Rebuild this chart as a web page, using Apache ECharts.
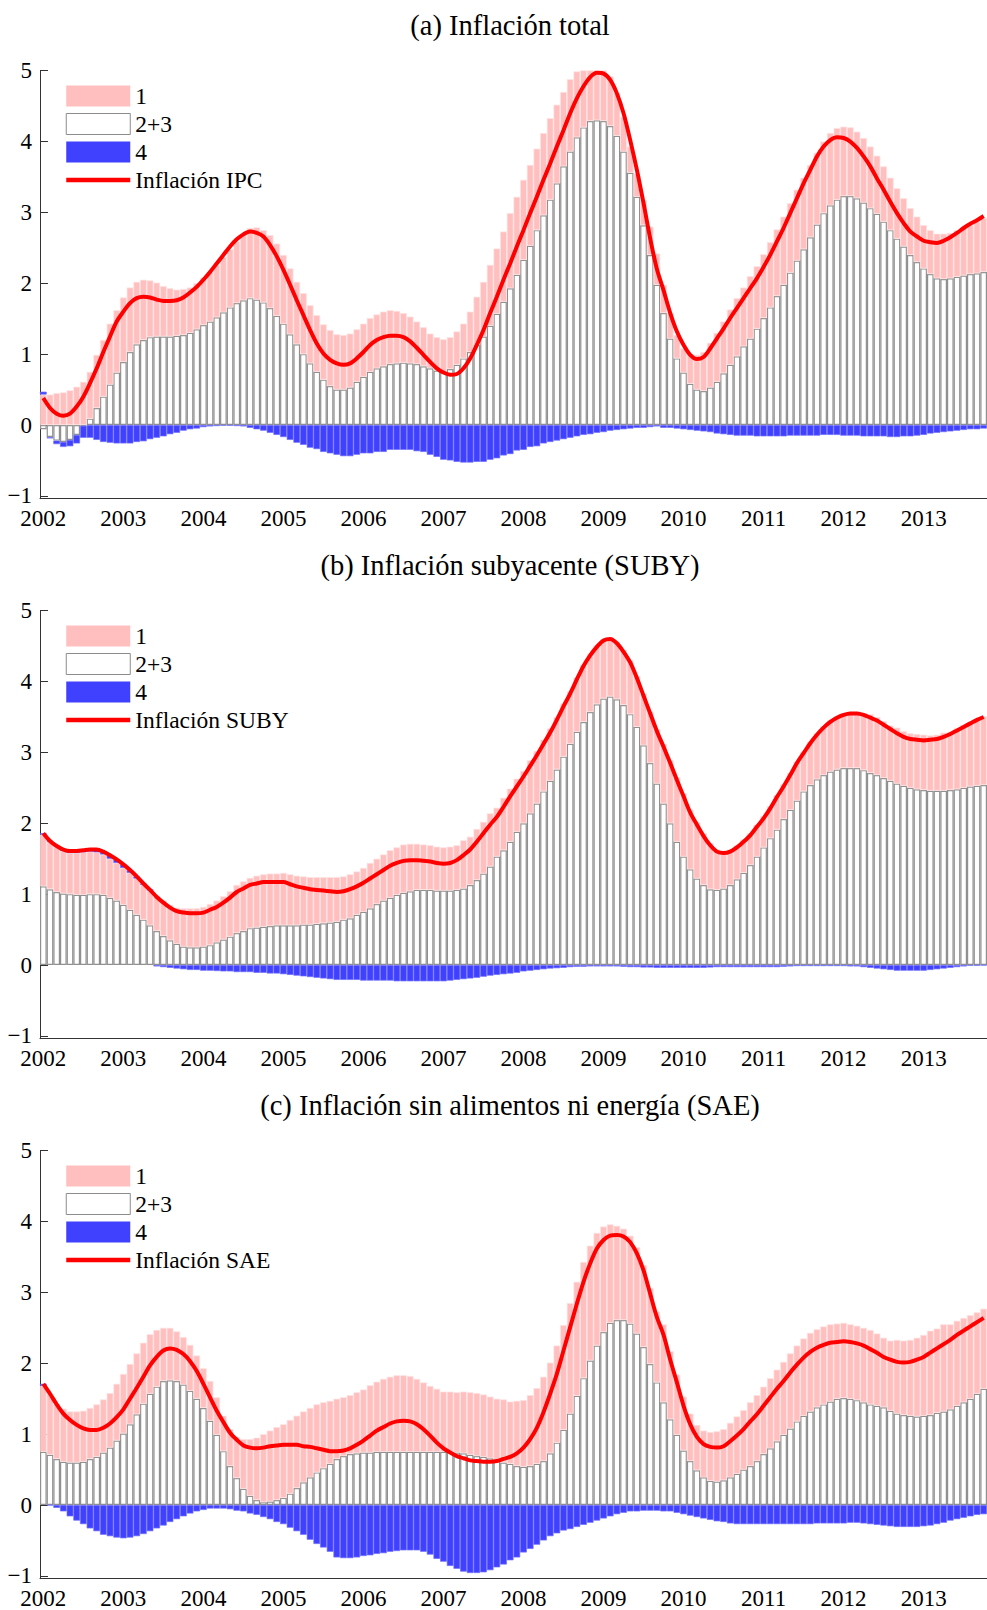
<!DOCTYPE html>
<html><head><meta charset="utf-8">
<script src="https://cdn.jsdelivr.net/npm/echarts@6/dist/echarts.min.js"></script>
<style>html,body{margin:0;padding:0;background:#fff}#c{width:987px;height:1610px}</style>
</head><body><div id="c"></div>
<script>
// Monthly observations, Jan 2002 onward (index 0 = 2002-01)
const years = [2002,2003,2004,2005,2006,2007,2008,2009,2010,2011,2012,2013];
const yTicks = [-1,0,1,2,3,4,5];
const titles = ['(a) Inflación total','(b) Inflación subyacente (SUBY)','(c) Inflación sin alimentos ni energía (SAE)'];
const lineNames = ['Inflación IPC','Inflación SUBY','Inflación SAE'];

// ---- (a) IPC ----
const ipcLine = [0.38,0.24,0.16,0.13,0.16,0.26,0.40,0.59,0.80,1.03,
1.25,1.46,1.60,1.72,1.79,1.81,1.80,1.77,1.75,1.75,
1.76,1.80,1.87,1.95,2.05,2.16,2.28,2.40,2.52,2.62,
2.69,2.73,2.71,2.66,2.54,2.38,2.19,1.98,1.76,1.55,
1.34,1.15,1.01,0.92,0.87,0.85,0.87,0.94,1.03,1.13,
1.20,1.24,1.26,1.26,1.24,1.18,1.09,0.99,0.89,0.80,
0.74,0.71,0.72,0.80,0.94,1.13,1.34,1.58,1.81,2.05,
2.28,2.52,2.75,2.99,3.22,3.46,3.69,3.93,4.16,4.40,
4.61,4.78,4.91,4.97,4.96,4.87,4.68,4.40,4.02,3.60,
3.13,2.63,2.20,1.90,1.58,1.32,1.13,0.99,0.93,0.96,
1.08,1.22,1.36,1.51,1.65,1.79,1.93,2.07,2.23,2.40,
2.59,2.78,2.99,3.20,3.41,3.60,3.79,3.93,4.02,4.06,
4.05,4.00,3.91,3.79,3.65,3.48,3.32,3.15,2.99,2.85,
2.73,2.66,2.60,2.58,2.57,2.60,2.65,2.71,2.78,2.84,
2.89,2.95];
const ipcC23 = [-0.06,-0.17,-0.22,-0.24,-0.21,-0.14,-0.01,0.09,0.24,0.40,
0.57,0.74,0.89,1.03,1.14,1.20,1.24,1.25,1.25,1.25,
1.26,1.27,1.30,1.35,1.41,1.46,1.52,1.59,1.66,1.72,
1.76,1.79,1.77,1.73,1.65,1.54,1.43,1.28,1.14,1.00,
0.87,0.75,0.64,0.55,0.50,0.50,0.53,0.61,0.68,0.75,
0.80,0.83,0.86,0.87,0.88,0.87,0.86,0.83,0.80,0.77,
0.75,0.79,0.85,0.94,1.03,1.13,1.25,1.40,1.57,1.74,
1.93,2.12,2.33,2.53,2.75,2.96,3.18,3.41,3.65,3.86,
4.06,4.20,4.29,4.30,4.29,4.22,4.08,3.86,3.56,3.22,
2.82,2.40,1.98,1.58,1.22,0.94,0.74,0.58,0.50,0.48,
0.53,0.61,0.73,0.85,0.97,1.11,1.22,1.36,1.51,1.66,
1.82,1.98,2.15,2.32,2.48,2.65,2.83,2.99,3.10,3.18,
3.23,3.23,3.20,3.14,3.06,2.98,2.87,2.75,2.63,2.52,
2.40,2.30,2.21,2.13,2.07,2.06,2.07,2.09,2.11,2.13,
2.14,2.16];
const ipcC1 = [0.43,0.43,0.45,0.46,0.49,0.54,0.61,0.66,0.75,0.80,
0.86,0.88,0.91,0.91,0.88,0.85,0.80,0.76,0.71,0.68,
0.65,0.65,0.64,0.65,0.67,0.70,0.74,0.78,0.82,0.87,
0.94,0.99,1.02,1.02,1.03,1.02,0.97,0.93,0.88,0.86,
0.82,0.80,0.78,0.79,0.78,0.77,0.76,0.74,0.75,0.76,
0.76,0.77,0.76,0.74,0.70,0.66,0.60,0.55,0.49,0.47,
0.46,0.45,0.47,0.49,0.57,0.68,0.77,0.86,0.92,0.99,
1.06,1.10,1.13,1.14,1.15,1.16,1.15,1.11,1.05,1.02,
0.93,0.83,0.77,0.76,0.76,0.70,0.60,0.49,0.37,0.33,
0.35,0.40,0.44,0.40,0.36,0.33,0.34,0.42,0.49,0.55,
0.63,0.69,0.73,0.78,0.82,0.83,0.88,0.88,0.90,0.92,
0.94,0.96,0.98,1.00,1.01,1.02,1.01,1.01,1.02,1.01,
0.98,0.97,0.94,0.91,0.87,0.82,0.78,0.74,0.71,0.68,
0.66,0.64,0.61,0.62,0.63,0.64,0.64,0.66,0.67,0.69,
0.73,0.76];
const ipcC4 = [0.04,-0.02,-0.05,-0.07,-0.09,-0.12,-0.17,-0.18,-0.21,-0.24,
-0.25,-0.26,-0.26,-0.26,-0.24,-0.23,-0.20,-0.18,-0.16,-0.13,
-0.11,-0.08,-0.06,-0.05,-0.03,-0.02,-0.015,-0.01,-0.01,-0.015,
-0.02,-0.04,-0.06,-0.08,-0.11,-0.14,-0.17,-0.21,-0.25,-0.28,
-0.32,-0.34,-0.38,-0.40,-0.42,-0.44,-0.44,-0.42,-0.40,-0.40,
-0.38,-0.38,-0.35,-0.35,-0.35,-0.35,-0.37,-0.38,-0.42,-0.45,
-0.49,-0.50,-0.52,-0.53,-0.53,-0.52,-0.52,-0.49,-0.47,-0.43,
-0.41,-0.36,-0.35,-0.31,-0.30,-0.26,-0.24,-0.22,-0.20,-0.18,
-0.16,-0.14,-0.13,-0.11,-0.10,-0.08,-0.07,-0.06,-0.05,-0.04,
-0.04,-0.03,-0.02,-0.04,-0.04,-0.05,-0.06,-0.07,-0.08,-0.09,
-0.10,-0.12,-0.13,-0.14,-0.15,-0.15,-0.15,-0.16,-0.16,-0.16,
-0.16,-0.16,-0.15,-0.15,-0.15,-0.15,-0.15,-0.14,-0.14,-0.14,
-0.15,-0.15,-0.15,-0.16,-0.16,-0.16,-0.16,-0.17,-0.17,-0.16,
-0.16,-0.15,-0.14,-0.12,-0.11,-0.10,-0.09,-0.08,-0.07,-0.06,
-0.06,-0.05];

// ---- (b) SUBY ----
const subyLine = [1.86,1.75,1.68,1.63,1.61,1.61,1.62,1.63,1.63,1.60,
1.55,1.49,1.42,1.34,1.25,1.15,1.06,0.96,0.88,0.81,
0.76,0.74,0.73,0.73,0.74,0.78,0.82,0.88,0.95,1.03,
1.08,1.13,1.15,1.17,1.17,1.17,1.17,1.14,1.11,1.09,
1.07,1.06,1.05,1.04,1.03,1.04,1.07,1.11,1.16,1.22,
1.28,1.34,1.40,1.44,1.47,1.48,1.48,1.47,1.46,1.44,
1.43,1.44,1.48,1.55,1.63,1.74,1.86,1.98,2.09,2.23,
2.38,2.52,2.66,2.81,2.96,3.12,3.28,3.46,3.65,3.83,
4.03,4.22,4.37,4.49,4.58,4.60,4.54,4.42,4.27,4.05,
3.80,3.55,3.30,3.08,2.85,2.61,2.38,2.15,1.98,1.82,
1.69,1.60,1.58,1.60,1.66,1.74,1.83,1.95,2.07,2.21,
2.37,2.52,2.68,2.85,2.99,3.13,3.25,3.35,3.43,3.49,
3.53,3.55,3.55,3.53,3.49,3.45,3.39,3.33,3.27,3.22,
3.19,3.18,3.17,3.18,3.19,3.22,3.26,3.31,3.36,3.41,
3.46,3.50];
const subyC23 = [1.11,1.07,1.03,1.01,1.00,0.99,0.99,1.00,1.00,0.99,
0.95,0.91,0.85,0.78,0.71,0.64,0.56,0.48,0.41,0.35,
0.30,0.26,0.25,0.25,0.26,0.28,0.32,0.36,0.40,0.45,
0.48,0.52,0.53,0.54,0.55,0.56,0.56,0.56,0.56,0.57,
0.57,0.58,0.59,0.60,0.61,0.64,0.66,0.71,0.75,0.80,
0.86,0.91,0.95,0.99,1.02,1.04,1.06,1.06,1.06,1.05,
1.05,1.05,1.06,1.08,1.13,1.20,1.29,1.39,1.53,1.62,
1.74,1.88,2.00,2.14,2.28,2.45,2.60,2.76,2.94,3.12,
3.29,3.43,3.57,3.68,3.76,3.79,3.75,3.67,3.54,3.36,
3.10,2.85,2.56,2.28,2.00,1.74,1.53,1.35,1.22,1.13,
1.07,1.06,1.08,1.13,1.21,1.30,1.41,1.53,1.66,1.79,
1.91,2.06,2.19,2.32,2.45,2.54,2.62,2.68,2.73,2.76,
2.78,2.78,2.78,2.75,2.71,2.68,2.64,2.60,2.56,2.53,
2.50,2.48,2.47,2.46,2.46,2.46,2.47,2.48,2.50,2.52,
2.53,2.54];
const subyC1 = [0.73,0.67,0.64,0.60,0.58,0.59,0.60,0.60,0.59,0.57,
0.55,0.53,0.52,0.52,0.51,0.49,0.50,0.50,0.50,0.50,
0.51,0.54,0.55,0.55,0.56,0.58,0.59,0.61,0.64,0.68,
0.70,0.71,0.73,0.74,0.74,0.73,0.74,0.72,0.70,0.68,
0.67,0.66,0.65,0.64,0.63,0.61,0.62,0.61,0.62,0.64,
0.64,0.65,0.67,0.67,0.68,0.67,0.65,0.64,0.63,0.62,
0.61,0.62,0.63,0.68,0.68,0.72,0.73,0.75,0.69,0.74,
0.75,0.75,0.74,0.75,0.74,0.73,0.74,0.74,0.75,0.74,
0.77,0.81,0.82,0.83,0.84,0.83,0.81,0.78,0.76,0.72,
0.73,0.73,0.77,0.84,0.89,0.91,0.89,0.84,0.80,0.73,
0.65,0.57,0.53,0.50,0.48,0.47,0.45,0.45,0.44,0.45,
0.49,0.49,0.52,0.55,0.56,0.61,0.65,0.69,0.72,0.75,
0.77,0.79,0.79,0.80,0.83,0.82,0.80,0.78,0.79,0.77,
0.77,0.78,0.78,0.78,0.79,0.82,0.82,0.86,0.89,0.90,
0.94,0.97];
const subyC4 = [0.02,0.01,0.01,0.02,0.03,0.03,0.03,0.03,0.04,0.04,
0.05,0.05,0.05,0.04,0.03,0.02,0.00,-0.02,-0.03,-0.04,
-0.05,-0.06,-0.07,-0.07,-0.08,-0.08,-0.085,-0.09,-0.09,-0.10,
-0.10,-0.10,-0.11,-0.11,-0.12,-0.12,-0.13,-0.14,-0.15,-0.16,
-0.17,-0.18,-0.19,-0.20,-0.21,-0.21,-0.21,-0.21,-0.22,-0.22,
-0.22,-0.22,-0.22,-0.23,-0.23,-0.23,-0.23,-0.23,-0.23,-0.23,
-0.23,-0.22,-0.21,-0.20,-0.19,-0.18,-0.165,-0.15,-0.14,-0.13,
-0.12,-0.11,-0.09,-0.08,-0.07,-0.06,-0.05,-0.045,-0.04,-0.03,
-0.025,-0.025,-0.02,-0.02,-0.02,-0.02,-0.02,-0.025,-0.03,-0.03,
-0.035,-0.035,-0.04,-0.04,-0.04,-0.04,-0.04,-0.04,-0.04,-0.04,
-0.035,-0.03,-0.03,-0.03,-0.03,-0.03,-0.03,-0.03,-0.03,-0.03,
-0.03,-0.025,-0.02,-0.015,-0.015,-0.015,-0.015,-0.015,-0.015,-0.015,
-0.015,-0.02,-0.02,-0.03,-0.04,-0.05,-0.06,-0.07,-0.08,-0.08,
-0.08,-0.08,-0.08,-0.07,-0.06,-0.05,-0.04,-0.03,-0.02,-0.01,
-0.01,-0.005];

// ---- (c) SAE ----
const saeLine = [1.71,1.57,1.42,1.29,1.20,1.13,1.08,1.06,1.06,1.09,
1.15,1.24,1.35,1.50,1.65,1.81,1.97,2.09,2.18,2.21,
2.19,2.13,2.03,1.89,1.71,1.52,1.33,1.17,1.02,0.92,
0.84,0.81,0.80,0.81,0.83,0.84,0.85,0.85,0.85,0.83,
0.82,0.80,0.78,0.76,0.76,0.77,0.80,0.85,0.91,0.98,
1.05,1.10,1.15,1.18,1.19,1.18,1.14,1.07,0.98,0.88,
0.80,0.74,0.69,0.66,0.63,0.62,0.61,0.61,0.62,0.65,
0.68,0.73,0.81,0.93,1.09,1.31,1.57,1.85,2.18,2.51,
2.84,3.15,3.41,3.62,3.74,3.80,3.81,3.79,3.71,3.55,
3.31,2.98,2.65,2.40,2.05,1.73,1.40,1.14,0.96,0.86,
0.82,0.81,0.83,0.90,0.98,1.07,1.18,1.28,1.40,1.52,
1.64,1.75,1.87,1.98,2.08,2.16,2.22,2.26,2.29,2.30,
2.31,2.30,2.28,2.25,2.20,2.15,2.09,2.05,2.02,2.01,
2.02,2.05,2.09,2.15,2.21,2.27,2.33,2.40,2.46,2.52,
2.58,2.64];
const saeC23 = [0.75,0.71,0.65,0.61,0.60,0.60,0.61,0.65,0.68,0.74,
0.81,0.91,1.01,1.14,1.28,1.43,1.57,1.67,1.75,1.76,
1.75,1.70,1.61,1.50,1.37,1.19,0.99,0.76,0.55,0.38,
0.23,0.13,0.07,0.04,0.05,0.07,0.10,0.16,0.24,0.32,
0.39,0.46,0.52,0.58,0.65,0.69,0.72,0.73,0.74,0.74,
0.75,0.75,0.75,0.75,0.75,0.75,0.75,0.75,0.75,0.75,
0.75,0.75,0.74,0.73,0.71,0.69,0.68,0.66,0.63,0.60,
0.58,0.55,0.54,0.55,0.58,0.62,0.73,0.88,1.06,1.29,
1.54,1.79,2.04,2.25,2.44,2.57,2.61,2.61,2.56,2.42,
2.23,1.99,1.73,1.45,1.21,0.99,0.77,0.62,0.49,0.39,
0.34,0.33,0.35,0.39,0.44,0.50,0.55,0.62,0.72,0.80,
0.90,0.99,1.08,1.18,1.26,1.32,1.38,1.42,1.46,1.50,
1.51,1.50,1.48,1.45,1.42,1.40,1.38,1.33,1.29,1.27,
1.26,1.25,1.26,1.27,1.30,1.32,1.35,1.40,1.45,1.50,
1.57,1.64];
const saeC1 = [0.93,0.86,0.77,0.75,0.72,0.72,0.72,0.72,0.74,0.75,
0.77,0.80,0.84,0.85,0.86,0.86,0.84,0.80,0.75,0.74,
0.70,0.67,0.65,0.61,0.56,0.56,0.53,0.50,0.52,0.58,
0.70,0.80,0.88,0.96,1.00,1.03,1.04,1.04,1.02,1.00,
0.98,0.96,0.93,0.89,0.85,0.83,0.83,0.86,0.89,0.95,
0.99,1.03,1.06,1.08,1.08,1.07,1.03,0.98,0.93,0.89,
0.85,0.85,0.85,0.87,0.88,0.89,0.88,0.87,0.87,0.89,
0.88,0.92,0.94,1.00,1.07,1.19,1.28,1.37,1.48,1.56,
1.61,1.64,1.62,1.59,1.49,1.39,1.33,1.29,1.24,1.22,
1.16,1.07,1.00,1.10,0.96,0.85,0.76,0.67,0.64,0.66,
0.69,0.71,0.72,0.77,0.81,0.84,0.90,0.93,0.95,0.99,
1.01,1.03,1.06,1.07,1.09,1.11,1.10,1.10,1.09,1.06,
1.06,1.05,1.05,1.05,1.05,1.02,0.98,0.99,1.04,1.05,
1.07,1.11,1.14,1.19,1.19,1.23,1.20,1.20,1.19,1.18,
1.15,1.13];
const saeC4 = [0.03,-0.005,-0.04,-0.09,-0.16,-0.22,-0.27,-0.33,-0.37,-0.42,
-0.44,-0.46,-0.47,-0.46,-0.44,-0.41,-0.37,-0.33,-0.29,-0.24,
-0.20,-0.16,-0.12,-0.09,-0.07,-0.05,-0.05,-0.05,-0.06,-0.08,
-0.09,-0.12,-0.14,-0.17,-0.20,-0.24,-0.27,-0.32,-0.37,-0.42,
-0.49,-0.55,-0.60,-0.66,-0.74,-0.75,-0.75,-0.74,-0.72,-0.71,
-0.69,-0.68,-0.66,-0.65,-0.64,-0.64,-0.64,-0.66,-0.70,-0.76,
-0.80,-0.86,-0.90,-0.94,-0.96,-0.96,-0.95,-0.92,-0.88,-0.84,
-0.78,-0.74,-0.67,-0.62,-0.56,-0.50,-0.44,-0.40,-0.36,-0.34,
-0.31,-0.28,-0.25,-0.22,-0.19,-0.16,-0.13,-0.11,-0.09,-0.09,
-0.08,-0.08,-0.08,-0.09,-0.09,-0.11,-0.13,-0.15,-0.17,-0.19,
-0.21,-0.23,-0.24,-0.26,-0.27,-0.27,-0.27,-0.27,-0.27,-0.27,
-0.27,-0.27,-0.27,-0.27,-0.27,-0.27,-0.26,-0.26,-0.26,-0.26,
-0.26,-0.25,-0.25,-0.26,-0.27,-0.28,-0.29,-0.30,-0.31,-0.31,
-0.31,-0.31,-0.30,-0.29,-0.27,-0.25,-0.22,-0.20,-0.18,-0.16,
-0.14,-0.13];

// month categories 2002-01 ... (one per observation)
const months = ipcLine.map((_, i) => (2002 + Math.floor(i / 12)) + '-' + String(i % 12 + 1).padStart(2, '0'));

const panels = [
  {c1: ipcC1, c23: ipcC23, c4: ipcC4, line: ipcLine},
  {c1: subyC1, c23: subyC23, c4: subyC4, line: subyLine},
  {c1: saeC1, c23: saeC23, c4: saeC4, line: saeLine}
];

const FONT = '"Liberation Serif", "Times New Roman", serif';
const isJan = i => i % 12 === 0;

const option = {
  animation: false,
  backgroundColor: '#fff',
  title: [], grid: [], xAxis: [], yAxis: [], legend: [], series: []
};

panels.forEach((p, k) => {
  const off = 540 * k;
  option.title.push({
    text: titles[k], left: 510, top: 11 + off, textAlign: 'center', padding: 0,
    textStyle: {fontFamily: FONT, fontSize: 28.5, fontWeight: 'normal', color: '#000'}
  });
  option.grid.push({left: 40, right: 0, top: 70.7 + off, height: 428});
  option.xAxis.push({
    type: 'category', gridIndex: k, data: months, boundaryGap: true,
    axisLine: {onZero: false, lineStyle: {color: '#333', width: 1}},
    axisTick: {inside: true, length: 8, alignWithLabel: true, interval: isJan, lineStyle: {color: '#333'}},
    axisLabel: {interval: isJan, formatter: v => v.slice(0, 4),
      fontFamily: FONT, fontSize: 23, color: '#000', margin: 8},
    splitLine: {show: false}
  });
  option.yAxis.push({
    type: 'value', gridIndex: k, min: -1.04, max: 5,
    axisLine: {show: true, onZero: false, lineStyle: {color: '#333', width: 1}},
    axisTick: {show: true, inside: true, length: 8, customValues: yTicks, lineStyle: {color: '#333'}},
    axisLabel: {customValues: yTicks, formatter: v => v < 0 ? '\u2212' + Math.abs(v) : String(v),
      fontFamily: FONT, fontSize: 23, color: '#000', margin: 8},
    splitLine: {show: false}
  });
  option.legend.push({
    left: 64, top: 84 + off, orient: 'vertical', padding: 0,
    itemWidth: 64, itemHeight: 21, itemGap: 4.0, selectedMode: false,
    textStyle: {fontFamily: FONT, fontSize: 23.5, color: '#000'},
    data: [
      {name: '1', icon: 'rect', itemStyle: {borderWidth: 0}},
      {name: '2+3', icon: 'rect', itemStyle: {borderWidth: 1, borderColor: '#8c8c8c'}},
      {name: '4', icon: 'rect', itemStyle: {borderWidth: 0}},
      {name: lineNames[k], itemStyle: {color: 'rgba(0,0,0,0)', opacity: 0, borderWidth: 0}, lineStyle: {width: 4.5, color: '#ff0000'}}
    ]
  });
  const common = {type: 'bar', xAxisIndex: k, yAxisIndex: k, stack: 's' + k, barWidth: '100%', barCategoryGap: '0%'};
  option.series.push(Object.assign({}, common, {name: '2+3', data: p.c23,
    itemStyle: {color: '#ffffff', borderColor: '#909090', borderWidth: 1.2}}));
  option.series.push(Object.assign({}, common, {name: '1', data: p.c1,
    itemStyle: {color: '#ffbfbf', borderColor: '#ffe2e2', borderWidth: 0.7}}));
  option.series.push(Object.assign({}, common, {name: '4', data: p.c4,
    itemStyle: {color: '#4040ff', borderColor: '#6e6eff', borderWidth: 0.7}}));
  option.series.push({
    type: 'line', name: lineNames[k], xAxisIndex: k, yAxisIndex: k, data: p.line,
    symbol: 'none', smooth: 0.3, z: 5,
    lineStyle: {color: '#ff0000', width: 4}, itemStyle: {color: '#ff0000'}
  });
});

const chart = echarts.init(document.getElementById('c'), null, {renderer: 'svg'});
chart.setOption(option);
</script>
</body></html>
